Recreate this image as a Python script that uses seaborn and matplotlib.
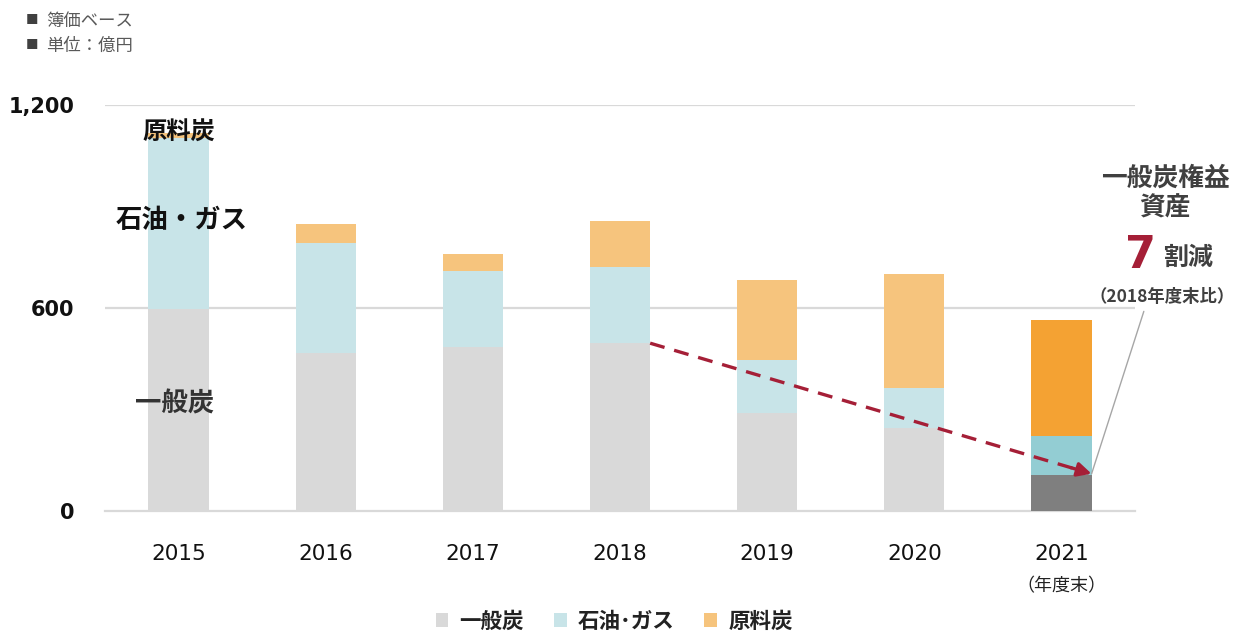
import numpy as np
import pandas as pd
import matplotlib
matplotlib.use("Agg")
import matplotlib.pyplot as plt
from matplotlib.patches import Patch
from matplotlib.ticker import FixedLocator
import seaborn as sns

# data (億円, 簿価ベース)
years = ["2015", "2016", "2017", "2018", "2019", "2020", "2021"]
thermal_coal = [597, 466, 484, 496, 291, 246, 107]     # 一般炭
oil_gas = [505, 327, 226, 226, 154, 119, 116]          # 石油・ガス
coking_coal = [15, 56, 50, 136, 238, 336, 341]         # 原料炭

series_names = ["一般炭", "石油･ガス", "原料炭"]
light_colors = ["#d9d9d9", "#c8e4e8", "#f6c47d"]
dark_colors = ["#7f7f7f", "#93cdd3", "#f4a233"]

sns.set_theme(style="white")
plt.rcParams["font.family"] = ["DejaVu Sans", "Noto Sans CJK JP"]
JP = ["Noto Sans CJK JP", "DejaVu Sans"]

df = pd.DataFrame({"year": years, "一般炭": thermal_coal,
                   "石油・ガス": oil_gas, "原料炭": coking_coal})
df["c1"] = df["一般炭"]
df["c2"] = df["c1"] + df["石油・ガス"]
df["c3"] = df["c2"] + df["原料炭"]

fig = plt.figure(figsize=(12.38, 6.35), dpi=100)
ax = fig.add_axes([0.0848, 0.1953, 0.8320, 0.6393])

# stacked bars: draw totals first, then lower layers on top
for col, i in [("c3", 2), ("c2", 1), ("c1", 0)]:
    pal = {y: (dark_colors[i] if y == "2021" else light_colors[i]) for y in years}
    sns.barplot(data=df, x="year", y=col, hue="year", palette=pal, order=years,
                width=0.41, dodge=False, legend=False, saturation=1,
                edgecolor="none", ax=ax, zorder=3)

ax.set_xlim(-0.5, 6.5)
ax.set_ylim(0, 1200)
ax.set_xlabel("")
ax.set_ylabel("")

# grid + axes styling
ax.set_yticks([0, 600, 1200])
ax.set_yticklabels(["0", "600", "1,200"], fontsize=15, fontweight="bold", color="#111111")
for yv in [600, 1200]:
    ax.axhline(yv, color="#d9d9d9", lw=1.6, zorder=1)
ax.tick_params(axis="y", length=0, pad=22)
ax.tick_params(axis="x", which="major", length=0, pad=24, labelsize=15.5, labelcolor="#111111")
ax.xaxis.set_minor_locator(FixedLocator(np.arange(-0.5, 7.0, 1.0)))
ax.tick_params(axis="x", which="minor", length=6, width=1, color="#d0d0d0")
for s in ["top", "right", "left"]:
    ax.spines[s].set_visible(False)
ax.spines["bottom"].set_color("#d9d9d9")
ax.spines["bottom"].set_linewidth(1.6)

ax.text(6, -0.185, "（年度末）", transform=ax.get_xaxis_transform(), ha="center", va="center",
        fontsize=13, family=JP, color="#222222")

# in-bar labels for 2015
ax.text(0, 1118, "原料炭", ha="center", va="center", fontsize=17.5, fontweight="bold", family=JP,
        color="#111111", zorder=5)
ax.text(0.02, 860, "石油・ガス", ha="center", va="center", fontsize=19, fontweight="bold", family=JP,
        color="#111111", zorder=5)
ax.text(-0.03, 317, "一般炭", ha="center", va="center", fontsize=19, fontweight="bold", family=JP,
        color="#333333", zorder=5)

# dashed trend arrow 2018 -> 2021
x0, y0 = 3 + 0.205, thermal_coal[3]
x1, y1 = 6 + 0.205, thermal_coal[6] + 3
ax.plot([x0, x1 - 0.12], [y0, y1 + 0.04 * (y0 - y1)], color="#a51f37", lw=2.4,
        dashes=(4.5, 3), zorder=6)
ax.annotate("", xy=(x1, y1), xytext=(x1 - 0.14, y1 + 0.14 / (x1 - x0) * (y0 - y1)),
            arrowprops=dict(arrowstyle="-|>,head_length=0.7,head_width=0.35", color="#a51f37",
                            lw=2.4, shrinkA=0, shrinkB=0), zorder=7)

# connector to annotation
ax.plot([x1, 6.56], [y1, 590], color="#a6a6a6", lw=1, clip_on=False, zorder=6)

# annotation text
fig.text(0.941, 0.720, "一般炭権益", ha="center", va="center", fontsize=18.5, fontweight="bold",
         family=JP, color="#404040")
fig.text(0.941, 0.673, "資産", ha="center", va="center", fontsize=18.5, fontweight="bold",
         family=JP, color="#404040")
fig.text(0.921, 0.598, "7", ha="center", va="center", fontsize=32, fontweight="bold",
         color="#a51f37")
fig.text(0.960, 0.594, "割減", ha="center", va="center", fontsize=18, fontweight="bold",
         family=JP, color="#404040")
fig.text(0.939, 0.532, "（2018年度末比）", ha="center", va="center", fontsize=12.5, fontweight="bold",
         family=JP, color="#404040")

# top-left notes
for yy, note in [(0.967, "簿価ベース"), (0.928, "単位：億円")]:
    fig.text(0.021, yy, "■", ha="left", va="center", fontsize=9, family=JP, color="#404040")
    fig.text(0.037, yy, note, ha="left", va="center", fontsize=12.5, family=JP, color="#595959")

# legend
handles = [Patch(facecolor=c, edgecolor="none") for c in light_colors]
leg = fig.legend(handles, series_names, loc="center", bbox_to_anchor=(0.496, 0.022), ncol=3,
                 frameon=False, handlelength=0.6, handleheight=0.6, handletextpad=0.5,
                 columnspacing=1.4, prop={"family": JP, "size": 15.5, "weight": "bold"})
for t in leg.get_texts():
    t.set_color("#222222")

fig.savefig("out.png", dpi=100)
